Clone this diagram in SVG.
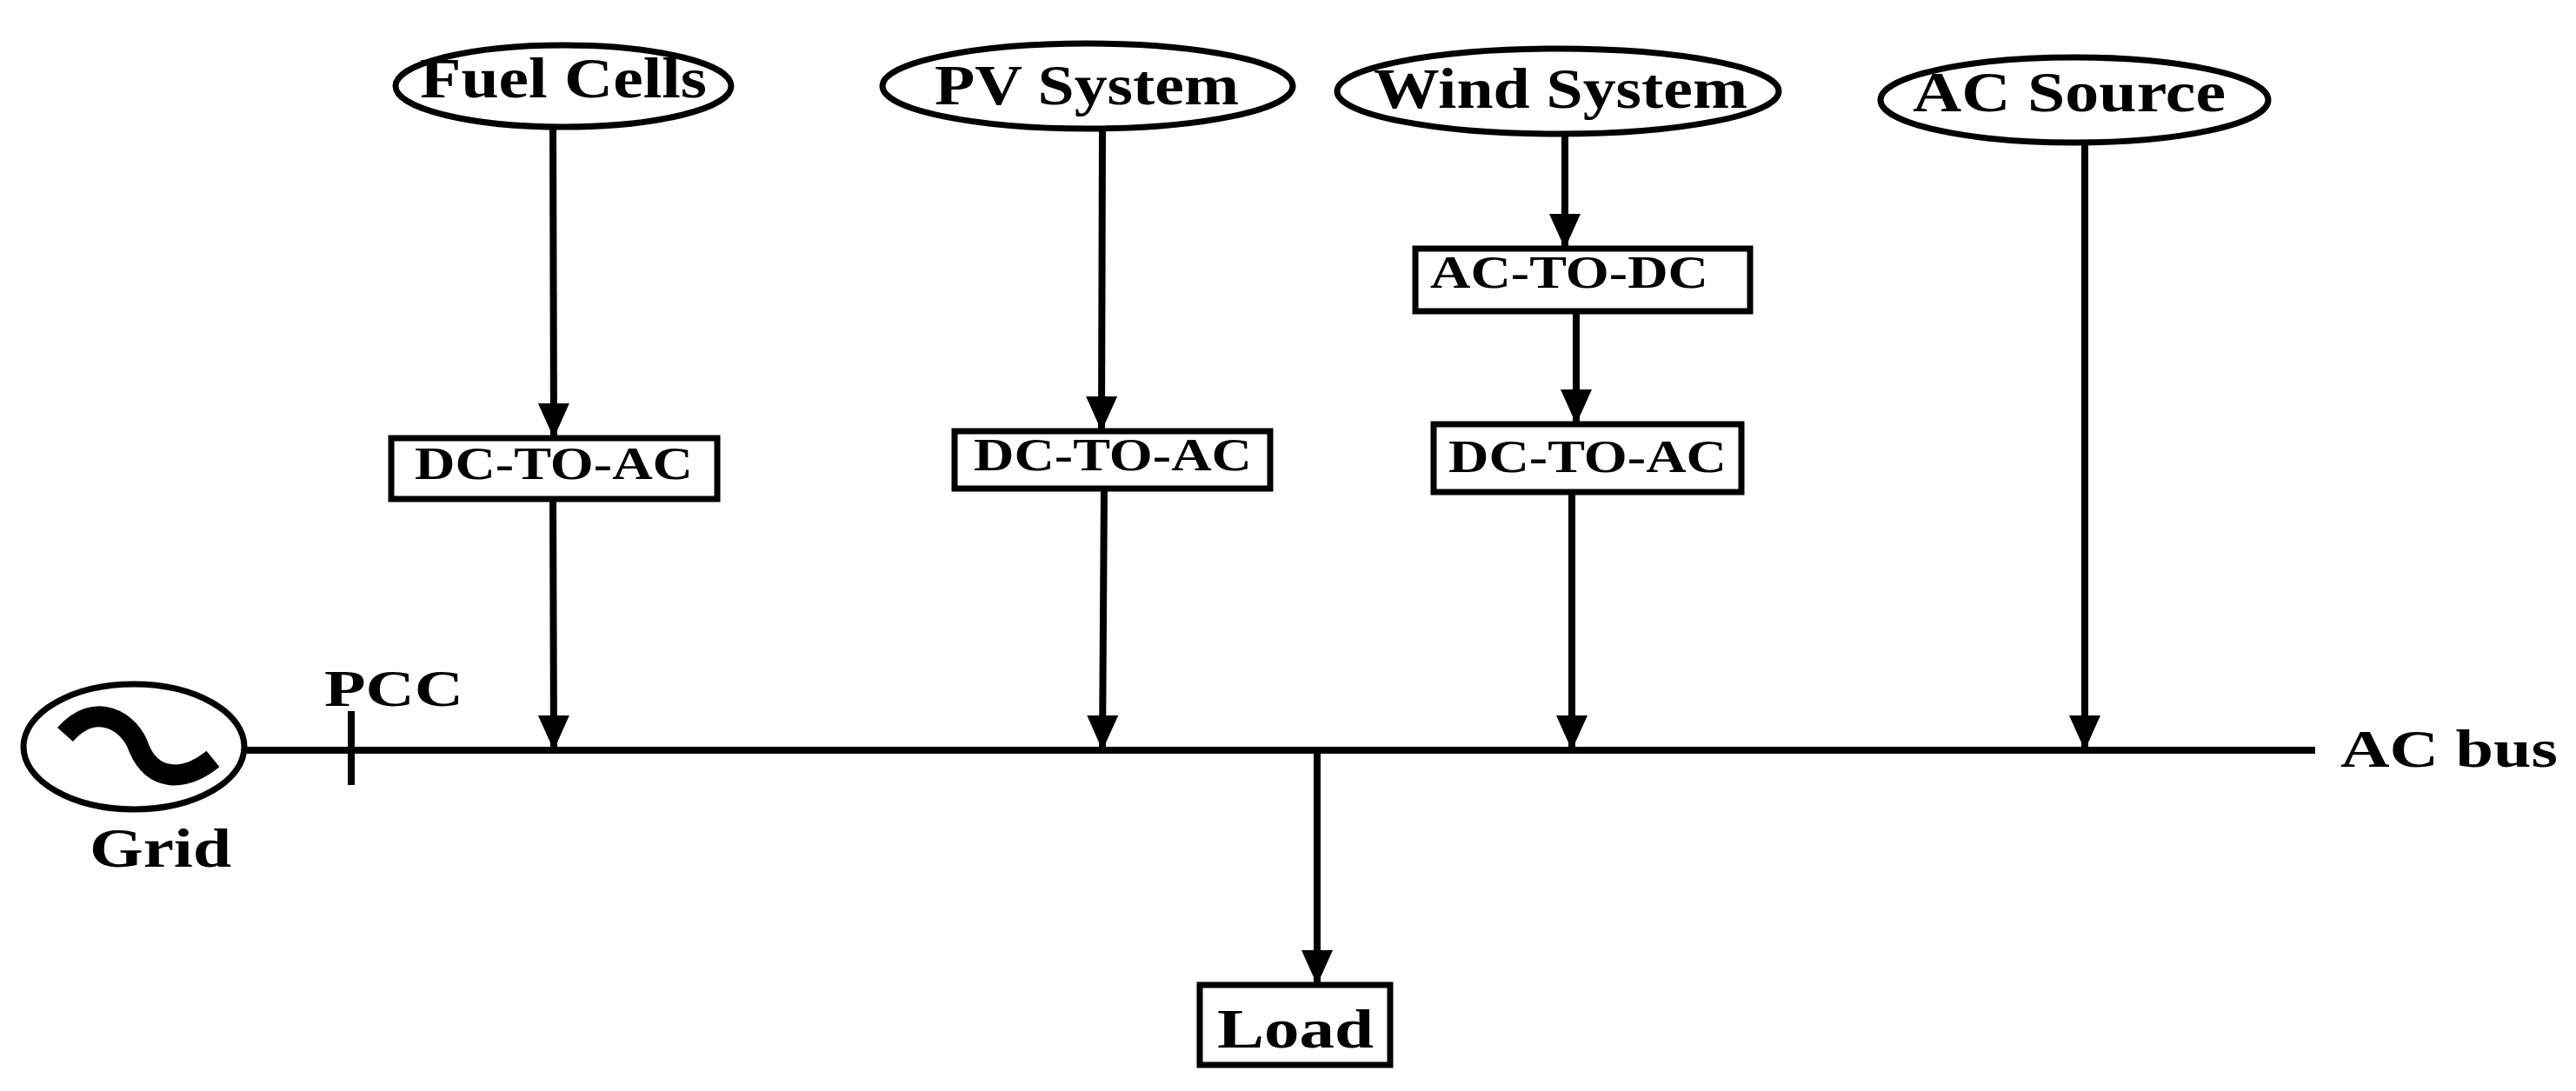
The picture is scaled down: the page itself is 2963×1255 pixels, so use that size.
<svg xmlns="http://www.w3.org/2000/svg" width="2963" height="1255" viewBox="0 0 2963 1255">
<style>
.s{fill:#fff;stroke:#000;stroke-width:7}
.t{font-family:"Liberation Serif",serif;font-weight:bold;fill:#000}
.c{stroke:#000;stroke-width:8;fill:none}
</style>
<defs><marker id="a" markerUnits="userSpaceOnUse" markerWidth="40" markerHeight="44" refX="40" refY="20" orient="auto" viewBox="0 0 40 40"><path d="M0,2 L40,20 L0,38 Z" fill="#000"/></marker></defs>
<rect width="2963" height="1255" fill="#fff"/>
<g id="connectors">
<line class="c" x1="282" y1="863" x2="2663" y2="863"/>
<line class="c" x1="404" y1="818" x2="404" y2="903"/>
<line class="c" x1="636" y1="146" x2="637" y2="504" marker-end="url(#a)"/>
<line class="c" x1="636" y1="574" x2="637" y2="863" marker-end="url(#a)"/>
<line class="c" x1="1268" y1="148" x2="1267" y2="496" marker-end="url(#a)"/>
<line class="c" x1="1270" y1="562" x2="1268" y2="863" marker-end="url(#a)"/>
<line class="c" x1="1800" y1="154" x2="1800" y2="286" marker-end="url(#a)"/>
<line class="c" x1="1813" y1="358" x2="1813" y2="488" marker-end="url(#a)"/>
<line class="c" x1="1808" y1="566" x2="1808" y2="863" marker-end="url(#a)"/>
<line class="c" x1="2398" y1="164" x2="2398" y2="863" marker-end="url(#a)"/>
<line class="c" x1="1515" y1="863" x2="1515" y2="1133" marker-end="url(#a)"/>
</g>
<g id="grid"><ellipse class="s" cx="154" cy="859" rx="127" ry="72"/>
<path d="M75,845 C110,805 150,830 160,861 C175,897 210,901 245,873" stroke="#000" stroke-width="24" fill="none"/>
<text class="t" x="103" y="997" font-size="64" textLength="163" lengthAdjust="spacingAndGlyphs">Grid</text></g>
<text class="t" x="373" y="812" font-size="60" textLength="160" lengthAdjust="spacingAndGlyphs">PCC</text>
<g id="fuel"><ellipse class="s" cx="648" cy="99" rx="193" ry="47"/><text class="t" x="648" y="112" font-size="66" text-anchor="middle" textLength="330" lengthAdjust="spacingAndGlyphs">Fuel Cells</text></g>
<g id="pv"><ellipse class="s" cx="1251" cy="99" rx="236" ry="49"/><text class="t" x="1250" y="120" font-size="66" text-anchor="middle" textLength="350" lengthAdjust="spacingAndGlyphs">PV System</text></g>
<g id="wind"><ellipse class="s" cx="1792" cy="105" rx="254" ry="49"/><text class="t" x="1795" y="124" font-size="66" text-anchor="middle" textLength="430" lengthAdjust="spacingAndGlyphs">Wind System</text></g>
<g id="acsrc"><ellipse class="s" cx="2386" cy="115" rx="223" ry="49"/><text class="t" x="2380" y="128" font-size="66" text-anchor="middle" textLength="360" lengthAdjust="spacingAndGlyphs">AC Source</text></g>
<g id="inv1"><rect class="s" x="450" y="504" width="375" height="70"/><text class="t" x="637" y="551" font-size="52" text-anchor="middle" textLength="320" lengthAdjust="spacingAndGlyphs">DC-TO-AC</text></g>
<g id="inv2"><rect class="s" x="1098" y="496" width="363" height="66"/><text class="t" x="1280" y="541" font-size="52" text-anchor="middle" textLength="320" lengthAdjust="spacingAndGlyphs">DC-TO-AC</text></g>
<g id="rect1"><rect class="s" x="1628" y="286" width="385" height="72"/><text class="t" x="1805" y="331" font-size="52" text-anchor="middle" textLength="320" lengthAdjust="spacingAndGlyphs">AC-TO-DC</text></g>
<g id="inv3"><rect class="s" x="1649" y="488" width="354" height="78"/><text class="t" x="1826" y="543" font-size="52" text-anchor="middle" textLength="320" lengthAdjust="spacingAndGlyphs">DC-TO-AC</text></g>
<g id="load"><rect class="s" x="1380" y="1133" width="219" height="92"/><text class="t" x="1490" y="1205" font-size="64" text-anchor="middle" textLength="180" lengthAdjust="spacingAndGlyphs">Load</text></g>
<text class="t" x="2692" y="882" font-size="62" textLength="250" lengthAdjust="spacingAndGlyphs">AC bus</text>
</svg>
